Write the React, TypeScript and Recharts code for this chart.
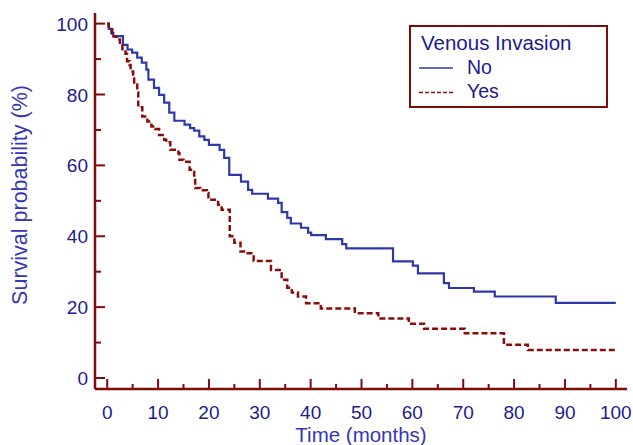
import { LineChart, Line, XAxis, YAxis, Legend } from 'recharts';

// Kaplan-Meier steps (months, survival %)
const noTime = [0, 0.3, 0.8, 1.2, 3.1, 4.0, 4.9, 5.9, 6.8, 7.7, 8.1, 9.2, 10.2, 11.2, 12.2, 13.2, 15.2, 16.3, 17.1, 18.1, 19.1, 20.0, 22.1, 23.0, 24.0, 26.3, 27.7, 28.5, 31.6, 33.6, 34.3, 35.4, 36.1, 38.1, 39.5, 40.1, 43.0, 46.2, 47.0, 56.2, 60.1, 61.1, 66.2, 67.2, 72.1, 76.2, 88.2, 100];
const noSurv = [100, 98.5, 97.3, 96.5, 94.0, 92.7, 91.8, 90.4, 89.0, 87.0, 84.2, 81.9, 79.9, 77.7, 74.9, 72.6, 71.5, 70.5, 69.8, 68.2, 67.2, 65.8, 64.4, 62.1, 57.3, 55.4, 53.1, 52.0, 50.6, 49.4, 46.8, 45.2, 43.6, 42.4, 41.0, 40.3, 39.2, 37.8, 36.6, 32.9, 31.7, 29.5, 26.8, 25.4, 24.4, 23.0, 21.2, 21.2];

const yesTime = [0, 0.3, 1.0, 1.3, 1.9, 2.5, 3.0, 3.6, 3.9, 4.4, 4.6, 5.1, 5.3, 5.9, 6.1, 6.9, 7.9, 8.7, 9.4, 10.2, 11.2, 11.6, 12.4, 14.0, 14.2, 15.0, 16.2, 17.1, 17.3, 18.3, 19.6, 19.9, 21.8, 22.5, 24.1, 25.0, 26.2, 27.6, 28.8, 32.2, 34.3, 35.4, 36.3, 37.5, 39.1, 42.0, 48.7, 53.3, 59.3, 62.3, 70.3, 78.0, 82.7, 100];
const yesSurv = [100, 98.4, 97.3, 96.4, 95.5, 94.2, 92.8, 91.5, 89.4, 88.3, 86.5, 84.5, 82.8, 80.6, 76.4, 73.8, 72.4, 71.0, 70.3, 68.6, 67.2, 66.5, 64.4, 63.4, 61.6, 61.0, 58.8, 56.4, 53.6, 53.0, 52.2, 50.3, 48.9, 47.5, 40.0, 38.2, 35.7, 35.2, 33.0, 30.5, 27.7, 25.5, 24.1, 23.0, 21.1, 19.6, 18.3, 16.8, 15.3, 13.9, 12.6, 9.4, 7.9, 7.9];

const xTicks = [0, 5, 10, 15, 20, 25, 30, 35, 40, 45, 50, 55, 60, 65, 70, 75, 80, 85, 90, 95, 100];
const yTicks = [0, 10, 20, 30, 40, 50, 60, 70, 80, 90, 100];

const noData = noTime.map((t, i) => ({ t, s: noSurv[i] }));
const yesData = yesTime.map((t, i) => ({ t, s: yesSurv[i] }));

const FRAME = '#7d0b0b';
const BLUE = '#2e38a8';
const RED = '#8a0d0d';
const NAVY = '#1c1c8c';
const TITLE = '#3636b4';
const FONT = '"Liberation Sans", Arial, sans-serif';

const XTick = (props: any) => {
  const { x, y, payload } = props;
  const major = payload.value % 10 === 0;
  return (
    <g>
      <line x1={x} x2={x} y1={y} y2={y - (major ? 10 : 5)} stroke={FRAME} strokeWidth={2} />
      {major && (
        <text x={x} y={y + 30} textAnchor="middle" fill={NAVY} fontSize={19} fontFamily={FONT}>
          {payload.value}
        </text>
      )}
    </g>
  );
};

const YTick = (props: any) => {
  const { x, y, payload } = props;
  const major = payload.value % 20 === 0;
  return (
    <g>
      <line x1={x} x2={x + (major ? 10 : 6)} y1={y} y2={y} stroke={FRAME} strokeWidth={2} />
      {major && (
        <text x={x - 7} y={y + 7} textAnchor="end" fill={NAVY} fontSize={19} fontFamily={FONT}>
          {payload.value}
        </text>
      )}
    </g>
  );
};

const YLabel = (props: any) => {
  const vb = props.viewBox || {};
  const cy = (vb.y ?? 13) + (vb.height ?? 376) / 2 - 6;
  return (
    <text
      x={20}
      y={cy}
      transform={`rotate(-90, 20, ${cy})`}
      textAnchor="middle"
      dominantBaseline="central"
      fill={TITLE}
      fontSize={21.5}
      fontFamily={FONT}
    >
      Survival probability (%)
    </text>
  );
};

const KMLegend = () => (
  <svg width={200} height={84} style={{ display: 'block' }}>
    <rect x={1} y={1} width={197} height={81} fill="#fff" stroke={FRAME} strokeWidth={2} />
    <text x={12} y={25} fill={NAVY} fontSize={20.5} fontFamily={FONT}>Venous Invasion</text>
    <line x1={10} x2={44} y1={43} y2={43} stroke={BLUE} strokeWidth={1.5} />
    <text x={58} y={49} fill={NAVY} fontSize={19.5} fontFamily={FONT}>No</text>
    <line x1={10} x2={44} y1={67.5} y2={67.5} stroke={RED} strokeWidth={1.5} strokeDasharray="4 2" />
    <text x={58} y={73} fill={NAVY} fontSize={19.5} fontFamily={FONT}>Yes</text>
  </svg>
);

export default function App() {
  return (
    <div style={{ position: 'absolute', left: 0, top: 0, background: '#fff' }}>
      <LineChart width={633} height={445} margin={{ top: 13, right: 6, bottom: 0, left: 0 }}>
        <XAxis
          dataKey="t"
          type="number"
          domain={[-2.4, 102.2]}
          ticks={xTicks}
          interval={0}
          height={56}
          tickSize={0}
          tickMargin={0}
          tickLine={false}
          tick={<XTick />}
          axisLine={{ stroke: FRAME, strokeWidth: 2.5 }}
          label={{ value: 'Time (months)', position: 'insideBottom', offset: 3, fill: TITLE, fontSize: 20.5, fontFamily: FONT }}
        />
        <XAxis xAxisId="top" orientation="top" type="number" domain={[-2.4, 102.2]} height={0} tick={false} tickLine={false} axisLine={{ stroke: FRAME, strokeWidth: 2.5 }} />
        <YAxis
          type="number"
          domain={[-3.1, 103]}
          ticks={yTicks}
          interval={0}
          width={95}
          tickSize={0}
          tickMargin={0}
          tickLine={false}
          tick={<YTick />}
          axisLine={{ stroke: FRAME, strokeWidth: 2.5 }}
          label={<YLabel />}
        />
        <YAxis yAxisId="right" orientation="right" width={0} tick={false} tickLine={false} axisLine={{ stroke: FRAME, strokeWidth: 2.5 }} />
        <Legend
          layout="vertical"
          align="center"
          verticalAlign="middle"
          content={<KMLegend />}
          wrapperStyle={{ left: 409, top: 25, width: 200, height: 84 }}
        />
        <Line
          data={noData}
          dataKey="s"
          name="No"
          type="stepAfter"
          stroke={BLUE}
          strokeWidth={2.2}
          dot={false}
          isAnimationActive={false}
        />
        <Line
          data={yesData}
          dataKey="s"
          name="Yes"
          type="stepAfter"
          stroke={RED}
          strokeWidth={2.5}
          strokeDasharray="6 3"
          dot={false}
          isAnimationActive={false}
        />
      </LineChart>
    </div>
  );
}
